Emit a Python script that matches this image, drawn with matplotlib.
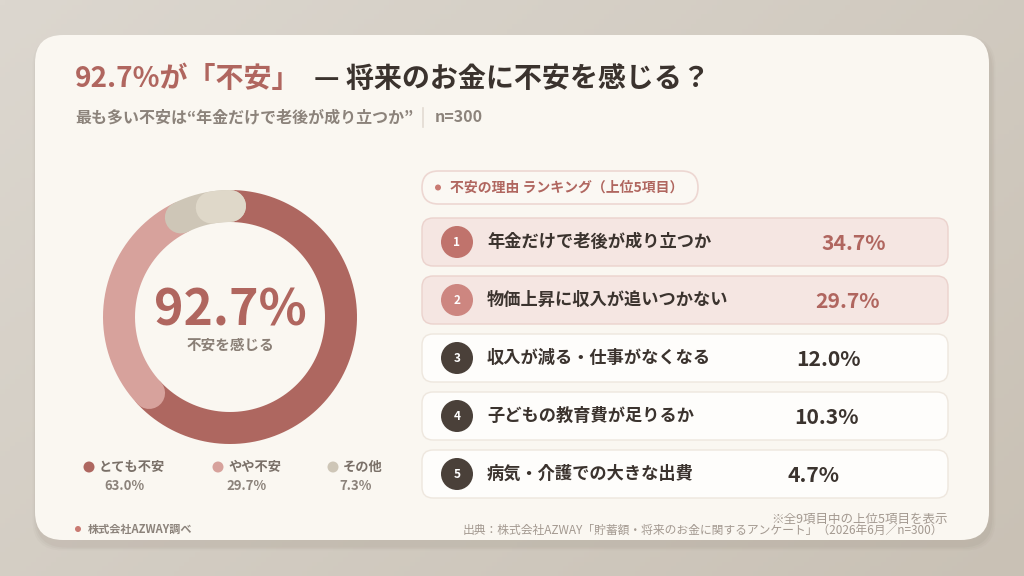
import numpy as np
import matplotlib
matplotlib.use("Agg")
import matplotlib.pyplot as plt
from matplotlib.patches import FancyBboxPatch, Circle

plt.rcParams['font.family'] = ['Noto Sans CJK JP', 'DejaVu Sans']

# data
donut_labels = ["とても不安", "やや不安", "その他"]
donut_values = [63.0, 29.7, 7.3]
donut_colors = ["#AE6760", "#D7A29C", "#CEC6B7"]
total_anxious = 92.7

rank_labels = ["年金だけで老後が成り立つか", "物価上昇に収入が追いつかない",
               "収入が減る・仕事がなくなる", "子どもの教育費が足りるか",
               "病気・介護での大きな出費"]
rank_values = [34.7, 29.7, 12.0, 10.3, 4.7]
n_total = 300

W, H = 1024, 576
fig = plt.figure(figsize=(W / 100, H / 100), dpi=100)
ax = fig.add_axes([0, 0, 1, 1])
ax.set_xlim(0, W)
ax.set_ylim(H, 0)
ax.axis("off")

# background gradient
gx = np.linspace(0, 1, 200)
gy = np.linspace(0, 1, 120)
gxx, gyy = np.meshgrid(gx, gy)
g = (gxx * 0.6 + gyy * 0.4)
c1 = np.array([0xDC, 0xD7, 0xCF]) / 255
c2 = np.array([0xC9, 0xC1, 0xB5]) / 255
bg = c1[None, None, :] * (1 - g[..., None]) + c2[None, None, :] * g[..., None]
ax.imshow(bg, extent=(0, W, H, 0), aspect="auto", zorder=0)

# card with soft shadow
for i, a in enumerate([0.05, 0.04, 0.03]):
    d = 3 + i * 3
    ax.add_patch(FancyBboxPatch((35 - d / 2 + 2, 35 + 4 - d / 2 + 2), 954 + d, 505 + d,
                                boxstyle="round,pad=0,rounding_size=30",
                                fc="#6b5f52", ec="none", alpha=a, zorder=1))
ax.add_patch(FancyBboxPatch((35, 35), 954, 505, boxstyle="round,pad=0,rounding_size=28",
                            fc="#FAF7F1", ec="none", zorder=2))

RED = "#B0665F"
DARK = "#3B332E"
GRAY = "#8C837B"

# title
t1 = ax.text(75, 79, f"{total_anxious}%が「不安」", color=RED, fontsize=20.2, fontweight="bold",
             va="center", ha="left", zorder=5)
fig.canvas.draw()
bb = t1.get_window_extent()
ax.text(bb.x1 + 13, 79, "— 将来のお金に不安を感じる？", color=DARK, fontsize=20.2,
        fontweight="bold", va="center", ha="left", zorder=5)

t2 = ax.text(75, 117, f"最も多い不安は“{rank_labels[0]}”", color=GRAY, fontsize=11.5,
             fontweight="bold", va="center", ha="left", zorder=5)
fig.canvas.draw()
bb2 = t2.get_window_extent()
ax.plot([bb2.x1 + 10, bb2.x1 + 10], [108, 127], color="#E2DBD2", lw=1.2, zorder=5)
ax.text(bb2.x1 + 22, 117, f"n={n_total}", color=GRAY, fontsize=11.5, fontweight="bold",
        va="center", ha="left", zorder=5)

# donut
cx, cy, r = 230, 317, 111
ring_lw = 32 / 1.389
starts = np.concatenate([[0], np.cumsum(donut_values)[:-1]])
for s, v, col in zip(starts, donut_values, donut_colors):
    ang = np.radians(np.linspace(s, s + v, 200) * 3.6)
    ax.plot(cx + r * np.sin(ang), cy - r * np.cos(ang), color=col, lw=ring_lw,
            solid_capstyle="round", zorder=4)
# lighter tip at the end of the last segment
s_last = starts[-1] + donut_values[-1] * 0.64
ang = np.radians(np.linspace(s_last, 100, 60) * 3.6)
ax.plot(cx + r * np.sin(ang), cy - r * np.cos(ang), color="#DFD8C9", lw=ring_lw,
        solid_capstyle="round", zorder=4)

ax.text(cx, 325, f"{total_anxious}%", color=RED, fontsize=36, fontweight="bold",
        ha="center", va="baseline", zorder=5)
ax.text(cx, 345, "不安を感じる", color="#8A7F76", fontsize=10.5, fontweight="bold",
        ha="center", va="center", zorder=5)

# donut legend
leg_x = [89, 218, 333]
for x, lab, v, col in zip(leg_x, donut_labels, donut_values, donut_colors):
    ax.add_patch(Circle((x, 467), 5.5, fc=col, ec="none", zorder=5))
    tl = ax.text(x + 10, 467, lab, color="#7A7068", fontsize=9.5, fontweight="bold",
                 ha="left", va="center", zorder=5)
    fig.canvas.draw()
    b = tl.get_window_extent()
    ax.text((x - 5.5 + b.x1) / 2, 486, f"{v}%", color="#8C837B", fontsize=9.5,
            fontweight="bold", ha="center", va="center", zorder=5)

# ranking pill
ax.add_patch(FancyBboxPatch((422, 171), 276, 33, boxstyle="round,pad=0,rounding_size=16.5",
                            fc="#FBF8F3", ec="#EDD7D2", lw=1.2, zorder=4))
ax.add_patch(Circle((438, 187.5), 3, fc="#C97A72", ec="none", zorder=5))
ax.text(450, 187.5, "不安の理由 ランキング（上位5項目）", color=RED, fontsize=10,
        fontweight="bold", ha="left", va="center", zorder=5)

# ranking rows
row_y0 = 218
row_step = 58
row_h = 48
val_x = [854, 848, 828, 826, 814]
for i, (lab, v) in enumerate(zip(rank_labels, rank_values)):
    y = row_y0 + i * row_step
    yc = y + row_h / 2
    top = i < 2
    ax.add_patch(FancyBboxPatch((422, y), 526, row_h, boxstyle="round,pad=0,rounding_size=11",
                                fc="#F5E6E2" if top else "#FEFDFB",
                                ec="#EBD2CD" if top else "#EEE7DE", lw=1.0, zorder=4))
    badge = ["#C0736C", "#CD8680"][i] if top else "#4A4039"
    ax.add_patch(Circle((457, yc), 16, fc=badge, ec="none", zorder=5))
    ax.text(457, yc + 0.5, str(i + 1), color="white", fontsize=8.5, fontweight="bold",
            ha="center", va="center", zorder=6)
    ax.text(487, yc, lab, color=DARK, fontsize=12.4, fontweight="bold",
            ha="left", va="center", zorder=6)
    ax.text(val_x[i], yc + 1, f"{v}%", color=RED if top else DARK, fontsize=15.2,
            fontweight="bold", ha="center", va="center", zorder=6)

# footer
ax.add_patch(Circle((78, 529), 3, fc="#C97A72", ec="none", zorder=5))
ax.text(88, 529, "株式会社AZWAY調べ", color="#8C837B", fontsize=8, fontweight="bold",
        ha="left", va="center", zorder=5)
ax.text(948, 519, "※全9項目中の上位5項目を表示", color="#A39990", fontsize=9,
        ha="right", va="center", zorder=5)
ax.text(943, 530, f"出典：株式会社AZWAY「貯蓄額・将来のお金に関するアンケート」（2026年6月／n={n_total}）",
        color="#A39990", fontsize=8.5, ha="right", va="center", zorder=5)

fig.savefig("out.png", dpi=100)
